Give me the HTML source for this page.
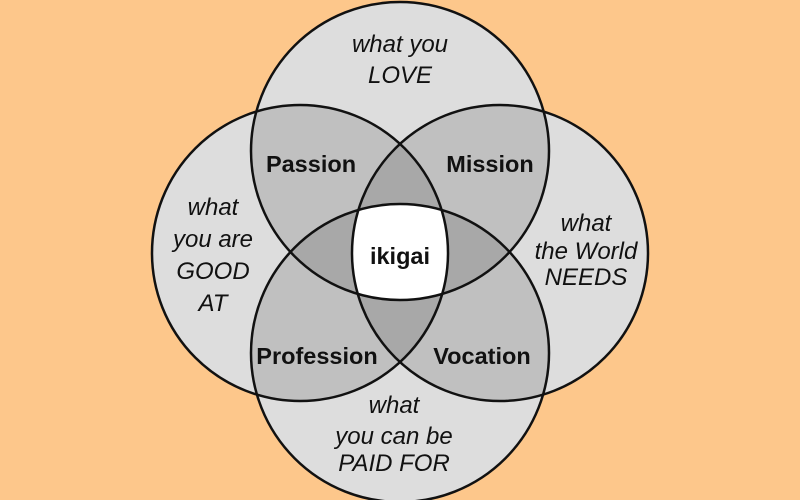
<!DOCTYPE html>
<html><head><meta charset="utf-8"><style>
html,body{margin:0;padding:0;background:#fdc78b;}
svg{display:block}
.i{font-family:"Liberation Sans",Arial,sans-serif;font-style:italic;font-size:24px;fill:#111;text-anchor:middle}
.b{font-family:"Liberation Sans",Arial,sans-serif;font-weight:bold;font-size:23.5px;fill:#111;text-anchor:middle}
</style></head><body>
<svg width="800" height="500" viewBox="0 0 800 500">
<defs>
<clipPath id="T"><circle cx="400" cy="151" r="149"/></clipPath>
<clipPath id="L"><circle cx="300" cy="253" r="148"/></clipPath>
<clipPath id="R"><circle cx="500" cy="253" r="148"/></clipPath>
<clipPath id="B"><circle cx="400" cy="353" r="149"/></clipPath>
</defs>
<rect width="800" height="500" fill="#fdc78b"/>
<g fill="#dddddd">
<circle cx="400" cy="151" r="149"/><circle cx="300" cy="253" r="148"/>
<circle cx="500" cy="253" r="148"/><circle cx="400" cy="353" r="149"/>
</g>
<g fill="#c0c0c0">
<g clip-path="url(#T)"><circle cx="300" cy="253" r="148"/><circle cx="500" cy="253" r="148"/><circle cx="400" cy="353" r="149"/></g>
<g clip-path="url(#B)"><circle cx="300" cy="253" r="148"/><circle cx="500" cy="253" r="148"/></g>
<g clip-path="url(#L)"><circle cx="500" cy="253" r="148"/></g>
</g>
<g fill="#a8a8a8">
<g clip-path="url(#T)"><g clip-path="url(#L)"><circle cx="500" cy="253" r="148"/><circle cx="400" cy="353" r="149"/></g></g>
<g clip-path="url(#B)"><g clip-path="url(#R)"><circle cx="300" cy="253" r="148"/><circle cx="400" cy="151" r="149"/></g></g>
</g>
<g clip-path="url(#T)"><g clip-path="url(#L)"><g clip-path="url(#R)"><circle cx="400" cy="353" r="149" fill="#fff"/></g></g></g>
<g fill="none" stroke="#111" stroke-width="2.5">
<circle cx="400" cy="151" r="149"/><circle cx="300" cy="253" r="148"/>
<circle cx="500" cy="253" r="148"/><circle cx="400" cy="353" r="149"/>
</g>
<text class="i" x="400" y="52">what you</text>
<text class="i" x="400" y="83">LOVE</text>
<text class="i" x="213" y="215">what</text>
<text class="i" x="213" y="247">you are</text>
<text class="i" x="213" y="279">GOOD</text>
<text class="i" x="213" y="311">AT</text>
<text class="i" x="586" y="231">what</text>
<text class="i" x="586" y="259">the World</text>
<text class="i" x="586" y="285">NEEDS</text>
<text class="i" x="394" y="413">what</text>
<text class="i" x="394" y="444">you can be</text>
<text class="i" x="394" y="471">PAID FOR</text>
<text class="b" x="311" y="172">Passion</text>
<text class="b" x="490" y="172">Mission</text>
<text class="b" x="400" y="264">ikigai</text>
<text class="b" x="317" y="364">Profession</text>
<text class="b" x="482" y="364">Vocation</text>
</svg>
</body></html>
